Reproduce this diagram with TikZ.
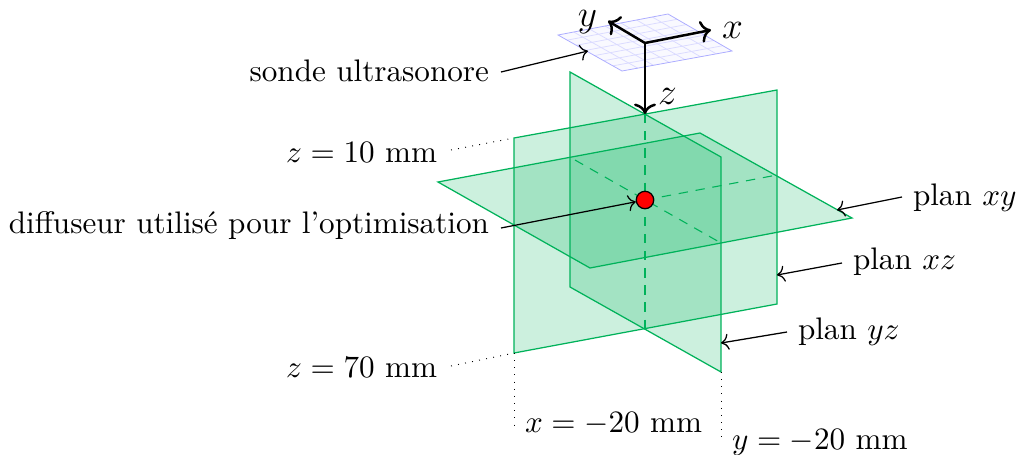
\documentclass[tikz,border=0pt]{standalone}
\usepackage{amsmath,amssymb}
\usetikzlibrary{arrows.meta,positioning,calc}
\definecolor{planeGreen}{RGB}{0,178,90}
\definecolor{probeBlue}{RGB}{90,90,255}

\begin{document}
\begin{tikzpicture}[
  x=0.321pt, y=-0.321pt,
  plane/.style={draw=planeGreen, fill=planeGreen, fill opacity=0.2, line width=0.4pt},
  cut/.style={draw=planeGreen, dash pattern=on 3pt off 2.5pt, line width=0.35pt},
  guide/.style={dotted, line width=0.3pt},
  axis/.style={->, thick},
  callout/.style={->, line width=0.4pt},
  tag/.style={inner sep=0pt, outer sep=0pt},
  scatterer/.style={circle, draw=black, fill=red, minimum size=5.6pt, inner sep=0pt, line width=0.4pt}
]
\useasboundingbox (0,0) rectangle (1018,455);

% Plane corners
\coordinate (xza) at (514,138);
\coordinate (xzb) at (777,90);
\coordinate (xzc) at (777,304);
\coordinate (xzd) at (514,353);
\coordinate (yza) at (570,72);
\coordinate (yzb) at (721,157);
\coordinate (yzc) at (721,372);
\coordinate (yzd) at (570,287);
\coordinate (xya) at (438,182);
\coordinate (xyb) at (700,133);
\coordinate (xyc) at (852,218);
\coordinate (xyd) at (590,268);

% Planes
\draw[plane] (yza) -- (yzb) -- (yzc) -- (yzd) -- cycle;
\draw[plane] (xza) -- (xzb) -- (xzc) -- (xzd) -- cycle;
\draw[plane] (xya) -- (xyb) -- (xyc) -- (xyd) -- cycle;

% Intersections
\coordinate (top) at (645,114);
\coordinate (bot) at (645,329);
\coordinate (cuta) at (575,160);
\coordinate (cutb) at (721,243);
\coordinate (cutc) at (777,175);
\coordinate (centre) at (645,200);
\draw[cut] (top) -- (bot);
\draw[cut] (cuta) -- (cutb);
\draw[cut] (centre) -- (cutc);
\node[scatterer] (dot) at (centre) {};

% Probe
\coordinate (pa) at (558,35);
\coordinate (pb) at (668,14);
\coordinate (pc) at (732,51);
\coordinate (pd) at (622,71);
\fill[probeBlue, opacity=0.04] (pa) -- (pb) -- (pc) -- (pd) -- cycle;
\foreach \i in {1,...,6} {
  \draw[probeBlue!22, line width=0.25pt] ($(pa)!\i/7!(pb)$) -- ($(pd)!\i/7!(pc)$);
  \draw[probeBlue!22, line width=0.25pt] ($(pa)!\i/7!(pd)$) -- ($(pb)!\i/7!(pc)$);
}
\draw[probeBlue!50, line width=0.25pt] (pa) -- (pb) -- (pc) -- (pd) -- cycle;

% Axes
\coordinate (orig) at (645,43);
\coordinate (xend) at (711,30);
\coordinate (yend) at (608,21);
\draw[axis] (orig) -- (xend);
\draw[axis] (orig) -- (yend);
\draw[axis] (orig) -- (top);
\node[anchor=west, tag] (xlab) at (722,30) {\large $x$};
\node[anchor=east, tag] (ylab) at (597,22) {\large $y$};
\node[anchor=west, tag] (zlab) at (658,96) {\large $z$};

% Labels
\node[anchor=east, tag] (sonde) at (489,71) {sonde ultrasonore};
\node[anchor=east, tag] (diff) at (489,226) {diffuseur utilis\'e pour l'optimisation};
\node[anchor=east, tag] (z10) at (437,152) {$z=10$ mm};
\node[anchor=east, tag] (z70) at (437,367) {$z=70$ mm};
\node[anchor=west, tag] (xm) at (525,424) {$x=-20$ mm};
\node[anchor=west, tag] (ym) at (732,442) {$y=-20$ mm};
\node[anchor=west, tag] (pxy) at (913,198) {plan $xy$};
\node[anchor=west, tag] (pxz) at (853,262) {plan $xz$};
\node[anchor=west, tag] (pyz) at (798,332) {plan $yz$};

% Callouts
\coordinate (sondeto) at (588,51);
\coordinate (sondefrom) at (501,72);
\coordinate (difffrom) at (501,228);
\coordinate (pxyfrom) at (902,197);
\coordinate (pxyto) at (837,210);
\coordinate (pxzfrom) at (842,263);
\coordinate (pxzto) at (777,275);
\coordinate (pyzfrom) at (787,332);
\coordinate (pyzto) at (721,343);
\draw[callout] (sondefrom) -- (sondeto);
\draw[callout] (difffrom) -- (dot);
\draw[callout] (pxyfrom) -- (pxyto);
\draw[callout] (pxzfrom) -- (pxzto);
\draw[callout] (pyzfrom) -- (pyzto);

% Guides
\coordinate (zlow) at (451,150);
\coordinate (zhigh) at (451,366);
\coordinate (xfoot) at (514,425);
\coordinate (yfoot) at (721,443);
\draw[guide] (zlow) -- (xza);
\draw[guide] (zhigh) -- (xzd);
\draw[guide] (xzd) -- (xfoot);
\draw[guide] (yzc) -- (yfoot);

\end{tikzpicture}
\end{document}
